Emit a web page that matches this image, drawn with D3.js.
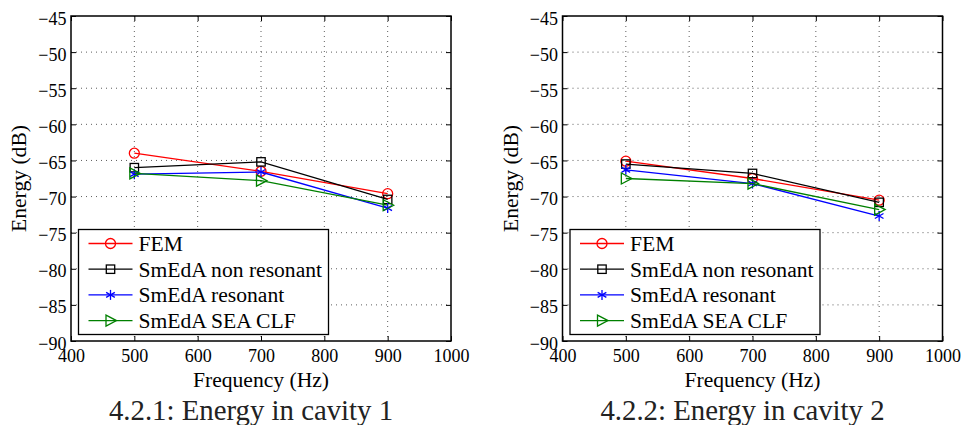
<!DOCTYPE html>
<html><head><meta charset="utf-8">
<script src="https://cdn.jsdelivr.net/npm/d3@7"></script>
<style>
html,body{margin:0;padding:0;background:#fff;}
svg{display:block;font-family:"Liberation Serif","Times New Roman",serif;}
</style></head>
<body>
<svg id="chart" width="964" height="425"></svg>
<script>
// ---- data ----
const frequencies = [500, 700, 900];
const xTickValues = [400, 500, 600, 700, 800, 900, 1000];
const yTickValues = [-90, -85, -80, -75, -70, -65, -60, -55, -50, -45];
const seriesNames = ["FEM", "SmEdA non resonant", "SmEdA resonant", "SmEdA SEA CLF"];
const seriesColors = ["#ff0000", "#000000", "#0000ff", "#008000"];
const seriesMarkers = ["circle", "square", "star", "triangle"];

const cavity1FEM = [-64.0, -66.5, -69.6];
const cavity1NonResonant = [-66.0, -65.2, -70.4];
const cavity1Resonant = [-66.9, -66.6, -71.6];
const cavity1SeaClf = [-66.8, -67.8, -71.2];

const cavity2FEM = [-65.1, -67.5, -70.5];
const cavity2NonResonant = [-65.5, -66.8, -70.8];
const cavity2Resonant = [-66.3, -68.2, -72.7];
const cavity2SeaClf = [-67.5, -68.2, -71.8];

const captions = ["4.2.1: Energy in cavity 1", "4.2.2: Energy in cavity 2"];
const xLabel = "Frequency (Hz)";
const yLabel = "Energy (dB)";

const panels = [
  {left: 71, caption: captions[0], series: [cavity1FEM, cavity1NonResonant, cavity1Resonant, cavity1SeaClf]},
  {left: 562.5, caption: captions[1], series: [cavity2FEM, cavity2NonResonant, cavity2Resonant, cavity2SeaClf]}
];

const svg = d3.select("#chart");
const plotW = 380, plotTop = 16, plotBottom = 341;
const fmt = d3.format("d");

function marker(g, type, x, y, color) {
  if (type === "circle") {
    g.append("circle").attr("cx", x).attr("cy", y).attr("r", 5)
      .attr("fill", "none").attr("stroke", color).attr("stroke-width", 1.3);
  } else if (type === "square") {
    g.append("rect").attr("x", x - 4.2).attr("y", y - 4.2).attr("width", 8.4).attr("height", 8.4)
      .attr("fill", "none").attr("stroke", color).attr("stroke-width", 1.3);
  } else if (type === "star") {
    const r = 5;
    const p = [[0, -r, 0, r], [-r * 0.87, -r * 0.5, r * 0.87, r * 0.5], [-r * 0.87, r * 0.5, r * 0.87, -r * 0.5]];
    p.forEach(d => g.append("line").attr("x1", x + d[0]).attr("y1", y + d[1]).attr("x2", x + d[2]).attr("y2", y + d[3])
      .attr("stroke", color).attr("stroke-width", 1.3));
  } else if (type === "triangle") {
    g.append("path").attr("d", `M${x - 4.5},${y - 5.5}L${x + 6},${y}L${x - 4.5},${y + 5.5}Z`)
      .attr("fill", "none").attr("stroke", color).attr("stroke-width", 1.3);
  }
}

panels.forEach(panel => {
  const x = d3.scaleLinear().domain([400, 1000]).range([panel.left, panel.left + plotW]);
  const y = d3.scaleLinear().domain([-90, -45]).range([plotBottom, plotTop]);
  const g = svg.append("g");

  // grid
  const grid = g.append("g").attr("stroke", "#333").attr("stroke-width", 0.8).attr("stroke-dasharray", "1,4");
  xTickValues.slice(1, -1).forEach(v => grid.append("line").attr("x1", x(v)).attr("x2", x(v)).attr("y1", plotTop).attr("y2", plotBottom));
  yTickValues.slice(1, -1).forEach(v => grid.append("line").attr("x1", x(400)).attr("x2", x(1000)).attr("y1", y(v)).attr("y2", y(v)));

  // axes with inward ticks
  const bottomAxis = d3.axisBottom(x).tickValues(xTickValues).tickFormat(fmt).tickSizeInner(-5).tickSizeOuter(0).tickPadding(8.5);
  const leftAxis = d3.axisLeft(y).tickValues(yTickValues).tickFormat(fmt).tickSizeInner(-5).tickSizeOuter(0).tickPadding(4.5);
  const topAxis = d3.axisTop(x).tickValues(xTickValues).tickSizeInner(-5).tickSizeOuter(0).tickFormat("");
  const rightAxis = d3.axisRight(y).tickValues(yTickValues).tickSizeInner(-5).tickSizeOuter(0).tickFormat("");

  const styleAxis = sel => {
    sel.selectAll("path").remove();
    sel.selectAll("line").attr("stroke", "#000").attr("stroke-width", 1);
    sel.selectAll("text").attr("fill", "#000").style("font-size", "18px").style("font-family", "'Liberation Serif', serif");
  };
  g.append("g").attr("transform", `translate(0,${plotBottom})`).call(bottomAxis).call(styleAxis);
  g.append("g").attr("transform", `translate(${panel.left},0)`).call(leftAxis).call(styleAxis)
    .selectAll("text").attr("dy", "0.45em");
  g.append("g").attr("transform", `translate(0,${plotTop})`).call(topAxis).call(styleAxis);
  g.append("g").attr("transform", `translate(${panel.left + plotW},0)`).call(rightAxis).call(styleAxis);

  // box
  g.append("rect").attr("x", x(400)).attr("y", plotTop).attr("width", plotW).attr("height", plotBottom - plotTop)
    .attr("fill", "none").attr("stroke", "#000").attr("stroke-width", 1.5);

  // series
  const line = d3.line().x((d, i) => x(frequencies[i])).y(d => y(d));
  panel.series.forEach((vals, si) => {
    g.append("path").datum(vals).attr("d", line).attr("fill", "none")
      .attr("stroke", seriesColors[si]).attr("stroke-width", 1.3);
    vals.forEach((v, i) => marker(g, seriesMarkers[si], x(frequencies[i]), y(v), seriesColors[si]));
  });

  // legend
  const lx = panel.left + 7.5, ly = 229.5;
  const lg = g.append("g");
  lg.append("rect").attr("x", lx).attr("y", ly).attr("width", 250).attr("height", 105)
    .attr("fill", "#fff").attr("stroke", "#000").attr("stroke-width", 1.3);
  seriesNames.forEach((name, si) => {
    const cy = ly + 14 + si * 25.7;
    lg.append("line").attr("x1", lx + 10).attr("x2", lx + 54).attr("y1", cy).attr("y2", cy)
      .attr("stroke", seriesColors[si]).attr("stroke-width", 1.3);
    marker(lg, seriesMarkers[si], lx + 32, cy, seriesColors[si]);
    lg.append("text").attr("x", lx + 60).attr("y", cy + 7.5).text(name)
      .style("font-size", "21.6px").attr("fill", "#000");
  });

  // axis labels
  g.append("text").attr("x", x(700)).attr("y", 386.5).attr("text-anchor", "middle")
    .style("font-size", "21.6px").text(xLabel);
  g.append("text").attr("transform", `translate(${panel.left - 45},${(plotTop + plotBottom) / 2}) rotate(-90)`)
    .attr("text-anchor", "middle").style("font-size", "21.6px").text(yLabel);

  // caption
  g.append("text").attr("x", x(700) - 10).attr("y", 420).attr("text-anchor", "middle")
    .style("font-size", "28.8px").attr("fill", "#222").text(panel.caption);
});
</script>
</body></html>
